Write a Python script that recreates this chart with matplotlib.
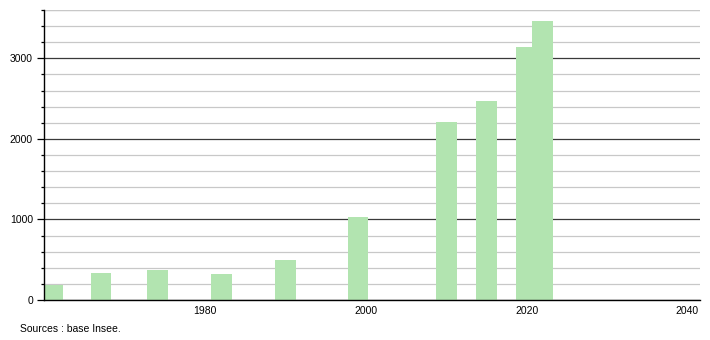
import matplotlib
matplotlib.use("Agg")
import matplotlib.pyplot as plt
from matplotlib.ticker import MultipleLocator

years = [1961, 1967, 1974, 1982, 1990, 1999, 2010, 2015, 2020, 2022]
values = [190, 330, 375, 325, 500, 1035, 2210, 2475, 3145, 3460]
xtick_labels = [1980, 2000, 2020, 2040]
ytick_labels = [0, 1000, 2000, 3000]
source = "Sources : base Insee."

plt.rcParams['font.family'] = ['Liberation Sans', 'DejaVu Sans']

fig = plt.figure(figsize=(7.1, 3.4), dpi=100)
ax = fig.add_axes([44/710, 40/340, 656/710, 290/340])

ax.bar(years, values, width=2.6, color='#b2e4b0', zorder=3, linewidth=0)

ax.set_xlim(1959.9, 2041.6)
ax.set_ylim(0, 3600)

ax.yaxis.set_major_locator(MultipleLocator(1000))
ax.yaxis.set_minor_locator(MultipleLocator(200))
ax.set_yticks(ytick_labels)
ax.set_xticks(xtick_labels)
ax.set_xticklabels([str(v) for v in xtick_labels])

ax.grid(axis='y', which='minor', color='#c8c8c8', linewidth=0.9, zorder=1)
ax.grid(axis='y', which='major', color='#3a3a3a', linewidth=0.9, zorder=2)
ax.axhline(3600, color='#c8c8c8', linewidth=0.9, zorder=1)

for s in ['top', 'right']:
    ax.spines[s].set_visible(False)
ax.spines['left'].set_color('black')
ax.spines['bottom'].set_color('black')
ax.spines['left'].set_linewidth(1)
ax.spines['bottom'].set_linewidth(1)
ax.spines['left'].set_zorder(4)
ax.spines['bottom'].set_zorder(4)

ax.tick_params(axis='y', which='major', length=5, width=0.9, labelsize=7.5, pad=3, colors='black')
ax.tick_params(axis='y', which='minor', length=2.5, width=0.9)
ax.tick_params(axis='x', which='both', length=0, labelsize=7.5, pad=4)

fig.text(20/710, 1 - 329/340, source, fontsize=7.5, va='center', ha='left')

fig.savefig('out.png', dpi=100)
